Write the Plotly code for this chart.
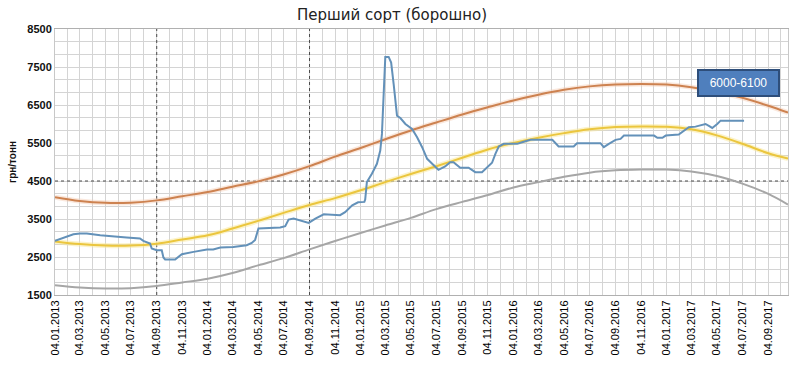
import plotly.graph_objects as go

title_text = "Перший сорт (борошно)"
y_title = "грн/тонн"
box_text = "6000-6100"

# smooth trend curves (sampled every 2 months, plus the right end)
curve_dates = [
    "2013-01-04", "2013-03-04", "2013-05-04", "2013-07-04", "2013-09-04", "2013-11-04",
    "2014-01-04", "2014-03-04", "2014-05-04", "2014-07-04", "2014-09-04", "2014-11-04",
    "2015-01-04", "2015-03-04", "2015-05-04", "2015-07-04", "2015-09-04", "2015-11-04",
    "2016-01-04", "2016-03-04", "2016-05-04", "2016-07-04", "2016-09-04", "2016-11-04",
    "2017-01-04", "2017-03-04", "2017-05-04", "2017-07-04", "2017-09-04", "2017-10-21",
]
orange_vals = [4075, 3975, 3925, 3930, 3990, 4100, 4210, 4350, 4490, 4670, 4890, 5140, 5370, 5600, 5830,
               6040, 6250, 6440, 6620, 6770, 6900, 6990, 7040, 7055, 7040, 6970, 6850, 6690, 6480, 6300]
yellow_vals = [2910, 2840, 2800, 2800, 2850, 2960, 3070, 3250, 3450, 3660, 3870, 4050, 4255, 4470, 4685,
               4890, 5110, 5330, 5500, 5640, 5760, 5860, 5920, 5935, 5925, 5860, 5700, 5480, 5230, 5090]
gray_vals = [1760, 1700, 1670, 1680, 1735, 1830, 1930, 2080, 2280, 2470, 2700, 2920, 3130, 3330, 3530,
             3760, 3950, 4130, 4330, 4470, 4610, 4720, 4780, 4800, 4800, 4750, 4630, 4430, 4160, 3880]

# actual price series
price_dates = [
    "2013-01-04", "2013-01-20", "2013-02-05", "2013-02-17", "2013-03-05", "2013-03-21", "2013-04-22",
    "2013-05-23", "2013-06-24", "2013-07-26", "2013-08-03", "2013-08-19", "2013-08-23", "2013-09-04",
    "2013-09-16", "2013-09-20", "2013-09-24", "2013-10-18", "2013-11-03", "2013-12-01", "2014-01-02",
    "2014-01-17", "2014-02-03", "2014-03-06", "2014-04-07", "2014-04-19", "2014-04-27", "2014-05-05",
    "2014-05-17", "2014-06-26", "2014-07-08", "2014-07-16", "2014-07-28", "2014-09-02", "2014-09-18",
    "2014-10-08", "2014-11-16", "2014-11-28", "2014-12-15", "2014-12-29", "2015-01-13", "2015-01-15",
    "2015-01-19", "2015-01-31", "2015-02-12", "2015-02-20", "2015-02-24", "2015-02-28", "2015-03-04",
    "2015-03-12", "2015-03-18", "2015-03-24", "2015-04-01", "2015-04-09", "2015-04-21", "2015-05-07",
    "2015-05-19", "2015-05-31", "2015-06-12", "2015-06-24", "2015-07-06", "2015-07-09", "2015-07-25",
    "2015-08-06", "2015-08-14", "2015-08-30", "2015-09-19", "2015-10-05", "2015-10-21", "2015-11-02",
    "2015-11-14", "2015-11-22", "2015-11-30", "2015-12-12", "2016-01-13", "2016-01-25", "2016-02-14",
    "2016-04-06", "2016-04-21", "2016-05-27", "2016-06-04", "2016-07-30", "2016-08-07", "2016-08-19",
    "2016-09-04", "2016-09-16", "2016-09-24", "2016-12-05", "2016-12-13", "2016-12-25", "2017-01-02",
    "2017-02-02", "2017-02-14", "2017-02-26", "2017-03-14", "2017-03-26", "2017-04-07", "2017-04-15",
    "2017-04-23", "2017-05-05", "2017-05-13", "2017-07-08",
]
price_vals = [
    2924, 2988, 3050, 3100, 3120, 3120, 3070,
    3050, 3013, 2988, 2924, 2855, 2724, 2680,
    2680, 2488, 2436, 2436, 2575, 2635, 2698,
    2698, 2750, 2766, 2810, 2870, 2950, 3250,
    3260, 3276, 3310, 3486, 3512, 3398, 3512,
    3625, 3600, 3680, 3860, 3940, 3950, 4010,
    4471, 4691, 4953, 5303, 5740, 6875, 7766,
    7766, 7618, 7049, 6218, 6157, 6000, 5870,
    5650, 5390, 5084, 4953, 4822, 4795, 4882,
    4994, 4994, 4848, 4848, 4733, 4733, 4864,
    4979, 5215, 5407, 5477, 5477, 5521, 5583,
    5583, 5407, 5407, 5495, 5495, 5390, 5477,
    5583, 5608, 5695, 5695, 5635, 5635, 5695,
    5721, 5809, 5913, 5931, 5957, 6000, 5948,
    5896, 6000, 6088, 6088,
]

ref_dates = ["2013-09-04", "2014-09-04"]
ref_level = 4500
x_range = ["2013-01-04", "2017-10-21"]
y_range = [1500, 8500]

fig = go.Figure()

# reference dotted lines drawn as traces beneath the curves
for d in ref_dates:
    fig.add_trace(go.Scatter(x=[d, d], y=y_range, mode="lines",
                             line=dict(color="#4A4A4A", width=1, dash="dot"), hoverinfo="skip"))
fig.add_trace(go.Scatter(x=x_range, y=[ref_level, ref_level], mode="lines",
                         line=dict(color="#4A4A4A", width=1, dash="dot"), hoverinfo="skip"))

# soft glow layers
fig.add_trace(go.Scatter(x=curve_dates, y=orange_vals, mode="lines", line=dict(color="rgba(245,205,180,0.45)", width=5, shape="spline"), hoverinfo="skip"))
fig.add_trace(go.Scatter(x=curve_dates, y=yellow_vals, mode="lines", line=dict(color="rgba(250,232,150,0.5)", width=5, shape="spline"), hoverinfo="skip"))

fig.add_trace(go.Scatter(x=curve_dates, y=gray_vals, mode="lines", line=dict(color="#A6A6A6", width=2, shape="spline")))
fig.add_trace(go.Scatter(x=curve_dates, y=orange_vals, mode="lines", line=dict(color="#CD8250", width=2, shape="spline")))
fig.add_trace(go.Scatter(x=curve_dates, y=yellow_vals, mode="lines", line=dict(color="#EBC63E", width=2, shape="spline")))
fig.add_trace(go.Scatter(x=price_dates, y=price_vals, mode="lines", line=dict(color="#6391B9", width=2)))

grid_c = "#D4D4D4"
fig.update_layout(
    width=809, height=375,
    margin=dict(l=55, r=21, t=29, b=80),
    paper_bgcolor="white", plot_bgcolor="white",
    showlegend=False,
    title=dict(text=title_text, x=392 / 809, xanchor="center", xref="container",
               y=1 - 15 / 375, yanchor="middle", yref="container",
               font=dict(family="DejaVu Sans", size=15, color="#222222")),
    xaxis=dict(
        type="date", range=x_range,
        tick0="2013-01-04", dtick="M2", tickformat="%d.%m.%Y", tickangle=-90,
        tickfont=dict(family="Liberation Sans", size=11, color="#000000"),
        showgrid=True, gridcolor=grid_c, gridwidth=1,
        minor=dict(tick0="2013-01-04", dtick="M1", showgrid=True, gridcolor=grid_c, gridwidth=1),
        showline=True, linecolor="#B0B0B0", linewidth=1, mirror=True,
        ticks="", zeroline=False,
    ),
    yaxis=dict(
        range=y_range, tick0=1500, dtick=1000,
        tickfont=dict(family="Liberation Sans", size=11, color="#111111", weight="bold"),
        showgrid=True, gridcolor=grid_c, gridwidth=1,
        minor=dict(tick0=1500, dtick=1000 / 3, showgrid=True, gridcolor=grid_c, gridwidth=1),
        showline=True, linecolor="#C8C8C8", linewidth=1, mirror=True,
        ticks="", ticklen=0, zeroline=False,
        title=dict(text=y_title, font=dict(family="Liberation Sans", size=10, color="#111111", weight="bold"), standoff=8),
    ),
)

fig.add_annotation(
    xref="paper", yref="paper", x=(738.5 - 55) / 733, y=(295 - 83) / 266,
    text=box_text, showarrow=False,
    font=dict(family="Liberation Sans", size=12, color="white"),
    bgcolor="#4F7FBD", bordercolor="#2E4E7A", borderwidth=2, borderpad=0,
    width=79, height=24, xanchor="center", yanchor="middle",
)

fig.write_html("out.html")
